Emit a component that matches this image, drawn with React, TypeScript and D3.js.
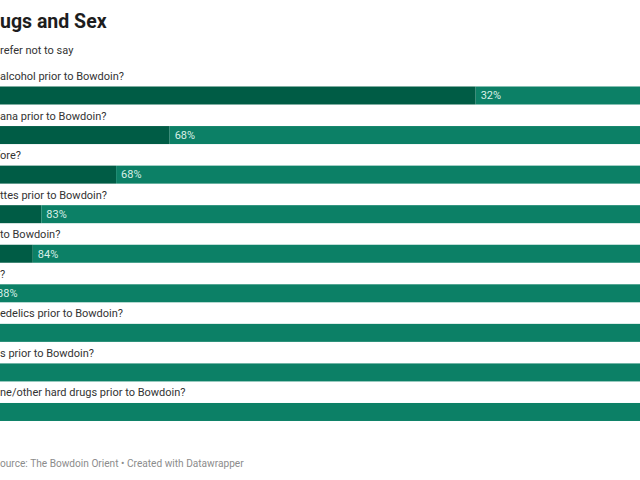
import React from "react";
import * as d3 from "d3";

// question text, split where the left edge of the picture cuts it
const hiddenParts = [
  "Did you drink ",
  "Did you use mariju",
  "Have you had sex bef",
  "Did you smoke cigare",
  "Did you vape prior ",
  "Are you sexually active",
  "Did you use psych",
  "Did you use opioid",
  "Did you use cocai",
];
const visibleParts = [
  "alcohol prior to Bowdoin?",
  "ana prior to Bowdoin?",
  "ore?",
  "ttes prior to Bowdoin?",
  "to Bowdoin?",
  "?",
  "edelics prior to Bowdoin?",
  "s prior to Bowdoin?",
  "ne/other hard drugs prior to Bowdoin?",
];
const questions = hiddenParts.map((h, i) => h + visibleParts[i]);

const seriesNames = ["Yes", "No", "Prefer not to say"];
const yesValues = [66.9, 30.9, 24.6, 15.8, 14.8, 10.0, 6.0, 5.0, 3.0];
const noValues = [32, 68, 68, 83, 84, 88, 93, 94, 96];
const preferValues = [1.1, 1.1, 7.4, 1.2, 1.2, 2.0, 1.0, 1.0, 1.0];

const colors = ["#005c45", "#0c8066", "#c8c8c8"];

const titleText = "Alcohol, Drugs and Sex";
const titleHidden = "Alcohol, Dr";
const sourceText = "Source: The Bowdoin Orient • Created with Datawrapper";
const sourceHidden = "S";

const FONT = "Roboto, 'Noto Sans', sans-serif";

const canvas = document.createElement("canvas");
const ctx = canvas.getContext("2d")!;
function measure(str: string, font: string) {
  ctx.font = font;
  return ctx.measureText(str).width;
}

const App = () => {
  const width = 640;
  const height = 480;

  const x = d3.scaleLinear().domain([0, 100]).range([-93, 757]);
  const y = d3
    .scaleBand<string>()
    .domain(questions)
    .range([67, 67 + questions.length * 39.56])
    .paddingInner(0);

  const rows = questions.map((q, i) => ({
    q,
    Yes: yesValues[i],
    No: noValues[i],
    "Prefer not to say": preferValues[i],
  }));
  const stacked = d3.stack<any>().keys(seriesNames)(rows);

  const labelFont = `11px ${FONT}`;
  const titleFont = `bold 19.5px ${FONT}`;
  const sourceFont = `10.15px ${FONT}`;

  // legend: last item's text starts just left of the picture edge
  const preferX = -measure("P", labelFont);
  const legendItems = [
    { name: "Prefer not to say", x: preferX },
    { name: "No", x: preferX - 14 - measure("No", labelFont) - 26 },
  ];
  legendItems.push({
    name: "Yes",
    x: legendItems[1].x - 14 - measure("Yes", labelFont) - 26,
  });

  return (
    <svg
      width={width}
      height={height}
      style={{ position: "fixed", left: 0, top: 0, background: "#fff" }}
      fontFamily={FONT}
    >
      <text
        x={-measure(titleHidden, titleFont)}
        y={28}
        fontSize={19.5}
        fontWeight="bold"
        fill="#1d1d1d"
      >
        {titleText}
      </text>

      {legendItems.map((item) => (
        <g key={item.name}>
          <rect
            x={item.x - 14}
            y={45}
            width={10}
            height={10}
            fill={colors[seriesNames.indexOf(item.name)]}
          />
          <text x={item.x} y={54} fontSize={11} fill="#333">
            {item.name}
          </text>
        </g>
      ))}

      {questions.map((q, i) => (
        <text
          key={q}
          x={-measure(hiddenParts[i], labelFont)}
          y={y(q)! + 13}
          fontSize={11}
          fill="#333"
        >
          {q}
        </text>
      ))}

      {stacked.map((layer, li) => (
        <g key={layer.key} fill={colors[li]}>
          {layer.map((d) => (
            <rect
              key={d.data.q}
              x={x(d[0])}
              y={y(d.data.q)! + 19.5}
              width={x(d[1]) - x(d[0])}
              height={18}
            />
          ))}
        </g>
      ))}

      {stacked.slice(0, 2).map((layer) =>
        layer.map((d) => (
          <text
            key={layer.key + d.data.q}
            x={x(d[0]) + 5}
            y={y(d.data.q)! + 19.5 + 9}
            dy="0.35em"
            fontSize={11}
            fill="#d9efe7"
          >
            {Math.round(d[1] - d[0])}%
          </text>
        ))
      )}

      <text
        x={-measure(sourceHidden, sourceFont)}
        y={467}
        fontSize={10.15}
        fill="#8c8c8c"
      >
        {sourceText}
      </text>
    </svg>
  );
};

export default App;
